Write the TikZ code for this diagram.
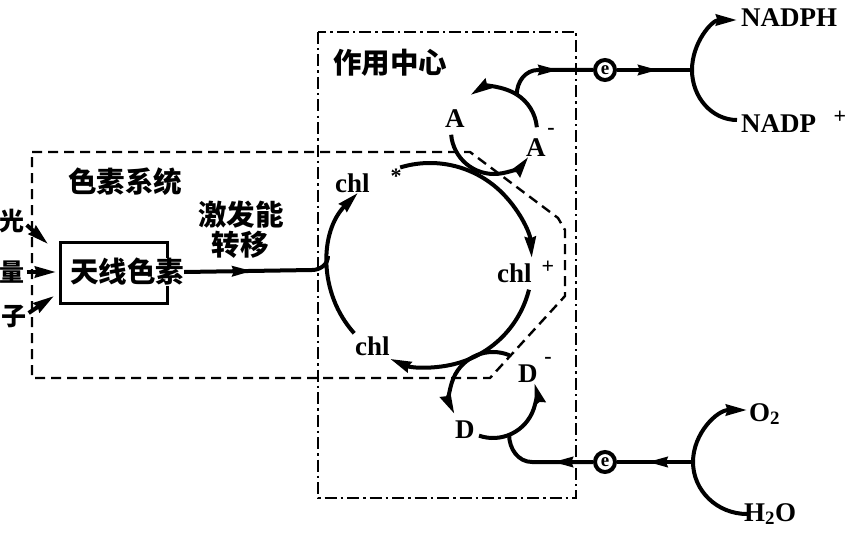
\documentclass[tikz,border=0pt]{standalone}
\usepackage{fontspec}
\setmainfont{Liberation Serif}
\newfontfamily\cjk{Noto Sans CJK SC}
\usetikzlibrary{arrows.meta,decorations.markings,calc}
\begin{document}
\begin{tikzpicture}[x=1pt,y=-1pt,
  thickline/.style={line width=4pt},
  endtip/.style={-{Stealth[length=21pt,width=11pt,inset=1.5pt]}},
  midtip/.style={postaction={decorate},decoration={markings,mark=at position #1 with {\arrow{Stealth[length=20pt,width=10pt,inset=1.5pt]}}}},
  latin/.style={font=\fontsize{27}{27}\selectfont\bfseries,inner sep=0pt,anchor=base west},
  supl/.style={font=\fontsize{22}{22}\selectfont\bfseries,inner sep=0pt},
  cjkt/.style={font=\cjk\fontsize{28.5}{28.5}\selectfont\bfseries,inner sep=0pt},
  cjks/.style={font=\cjk\fontsize{25}{25}\selectfont\bfseries,inner sep=0pt},
  pigline/.style={line width=2.4pt,dash pattern=on 10pt off 6pt},
  rcline/.style={line width=2.4pt,dash pattern=on 12pt off 4pt on 2.5pt off 4pt},
  ecirc/.style={circle,draw,line width=4pt,minimum size=20pt,inner sep=0pt,font=\fontsize{19}{19}\selectfont\bfseries}
]
\useasboundingbox (0,0) rectangle (850,532);

% frames
\draw[rcline] (318,32) rectangle (576,498);
\draw[pigline] (32,152) -- (470,152) -- (558,218) -- (565,230) -- (565,296) -- (490,378) -- (32,378) -- cycle;

% centres
\coordinate (M) at (430,265);
\coordinate (Ac) at (494,131);
\coordinate (Dc) at (493,395);

% texts
\node[cjkt] (rc) at (390,63) {作用中心};
\node[cjkt] (ps) at (125,182) {色素系统};
\node[cjkt] (ex1) at (241,215) {激发能};
\node[cjkt] (ex2) at (240,245) {转移};
\node[cjks] (g1) at (12,221) {光};
\node[cjks] (g2) at (12,272) {量};
\node[cjks] (g3) at (14,317) {子};

\node[draw,line width=3pt,minimum width=107pt,minimum height=61pt,inner sep=0pt] (ant) at (114,273) {};
\node[cjkt,fill=white] (antlbl) at (127,272) {天线色素};

\node[latin] (chls) at (335,192) {chl};
\node[supl] (star) at (396,176) {*};
\node[latin] (chlp) at (497,282) {chl};
\node[supl] (plus) at (548,267) {+};
\node[latin] (chl) at (355,355) {chl};

\node[latin] (A1) at (445,127) {A};
\node[latin] (A2) at (526,156) {A};
\node[supl] (A2m) at (551,131) {-};
\node[latin] (D1) at (518,382) {D};
\node[supl] (D1m) at (548,360) {-};
\node[latin] (D2) at (455,438) {D};

\node[ecirc] (e1) at (605,70) {e};
\node[ecirc] (e2) at (605,462) {e};

\node[latin] (nadph) at (741,27) {NADPH};
\node[latin] (nadp) at (741,132) {NADP};
\node[supl] (nadpp) at (840,117) {+};
\node[latin] (o2) at (749,421) {O\textsubscript{2}};
\node[latin] (h2o) at (744,521) {H\textsubscript{2}O};

% photons
\coordinate (p1) at (48,244);
\coordinate (p2) at (56,272);
\coordinate (p3) at (54,296);
\draw[thickline,endtip] (g1.east) ++(2,4) -- (p1);
\draw[thickline,endtip] (g2.east) ++(2,0) -- (p2);
\draw[thickline,endtip] (g3.east) ++(2,-4) -- (p3);

% energy transfer
\coordinate (m0) at (312,270);
\coordinate (mj) at (328,256);
\draw[thickline,midtip=0.45] (antlbl.east) -- (m0) to[out=0,in=-90] (mj);

% main circle
\draw[thickline,endtip] ($(M)+(222:102pt)$) arc[start angle=222,end angle=135,radius=102pt];
\draw[thickline,endtip] ($(M)+(107:102pt)$) arc[start angle=107,end angle=4,radius=102pt];
\draw[thickline,endtip] ($(M)+(-14:102pt)$) arc[start angle=-14,end angle=-113,radius=102pt];

% A circle
\draw[thickline,endtip] ($(Ac)+(58:43pt)$) arc[start angle=58,end angle=123,radius=43pt];
\draw[thickline,endtip] ($(Ac)+(185:43pt)$) arc[start angle=185,end angle=323,radius=43pt];
\draw[thickline] ($(Ac)+(5:43pt)$) arc[start angle=5,end angle=58,radius=43pt];
\coordinate (Atop) at ($(Ac)+(58:43pt)$);
\coordinate (a1) at (538,70);
\draw[thickline,midtip=0.62] (Atop) to[out=90,in=180] (a1) -- (e1);

% D circle
\draw[thickline,endtip] ($(Dc)+(67:43pt)$) arc[start angle=67,end angle=206,radius=43pt];
\draw[thickline,endtip] ($(Dc)+(251:43pt)$) arc[start angle=251,end angle=376,radius=43pt];
\coordinate (Dbot) at ($(Dc)+(292:43pt)$);
\coordinate (d1) at (532,462);
\draw[thickline,midtip=0.4] (e2) -- (d1) to[out=180,in=-90] (Dbot);

% right side
\coordinate (j1) at (692,70);
\coordinate (j2) at (693,462);
\draw[thickline,midtip=0.55] (e1) -- (j1);
\draw[thickline,endtip] (737,120) arc[start angle=270,end angle=90,x radius=45pt,y radius=50pt];
\draw[thickline,midtip=0.6] (j2) -- (e2);
\draw[thickline,endtip] (747,514) arc[start angle=270,end angle=90,x radius=54pt,y radius=52pt];
\end{tikzpicture}
\end{document}
